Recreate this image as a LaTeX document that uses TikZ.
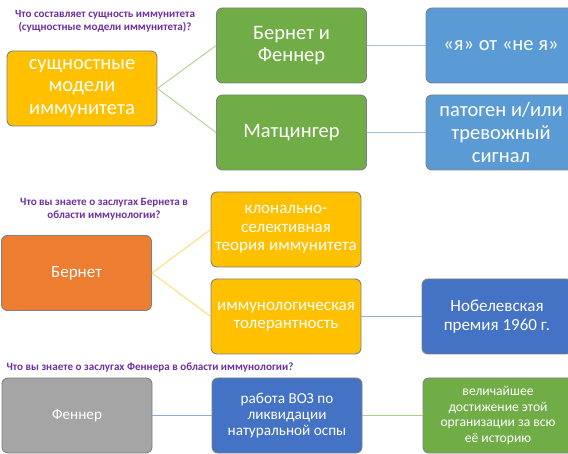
\documentclass[tikz,border=0pt]{standalone}
\usepackage{fontspec}
\setmainfont{Carlito}
\definecolor{cyellow}{HTML}{FFC000}
\definecolor{cgreen}{HTML}{70AD47}
\definecolor{clblue}{HTML}{5B9BD5}
\definecolor{corange}{HTML}{ED7D31}
\definecolor{cblue}{HTML}{4472C4}
\definecolor{cgray}{HTML}{A5A5A5}
\definecolor{qpurple}{HTML}{7030A0}
\definecolor{lgreen}{HTML}{A9D18E}
\definecolor{llblue}{HTML}{9DC3E6}
\definecolor{lyellow}{HTML}{FFD966}
\definecolor{lblue}{HTML}{8FAADC}
\definecolor{boxline}{HTML}{808080}
\begin{document}
\begin{tikzpicture}[x=1pt,y=-1pt,
  box/.style={draw=boxline, rounded corners=6pt, line width=0.9pt,
    minimum width=150pt, minimum height=75pt, text=white, align=center, inner sep=1pt},
  big/.style={font=\fontsize{20.5}{22.8}\selectfont},
  mid/.style={font=\fontsize{17}{18.5}\selectfont},
  sml/.style={font=\fontsize{15.2}{16}\selectfont},
  q/.style={text=qpurple, font=\bfseries\fontsize{11.1}{13}\selectfont, align=center},
  conn/.style={line width=0.9pt}]
\useasboundingbox (0,0) rectangle (568,454);
% section 1
\node[q] (q1) at (105,21.5) {Что составляет сущность иммунитета\\(сущностные модели иммунитета)?};
\node[box, big, fill=cyellow] (s1) at (82,88.5) {сущностные\\модели\\иммунитета};
\node[box, big, fill=cgreen] (bf) at (291.5,45.5) {Бернет и\\Феннер};
\node[box, big, fill=cgreen] (mt) at (291.5,132.5) {Матцингер};
\node[box, big, fill=clblue] (ya) at (501,45.5) {«я» от «не я»};
\node[box, big, fill=clblue] (pt) at (501,132.5) {патоген и/или\\тревожный\\сигнал};
\draw[conn, lgreen] (s1.east) -- (bf.west);
\draw[conn, lgreen] (s1.east) -- (mt.west);
\draw[conn, llblue] (bf.east) -- (ya.west);
\draw[conn, llblue] (mt.east) -- (pt.west);
% section 2
\node[q] (q2) at (104,209.5) {Что вы знаете о заслугах Бернета в\\области иммунологии?};
\node[box, mid, fill=corange] (br) at (76.5,273) {Бернет};
\node[box, mid, fill=cyellow] (kl) at (286,229.5) {клонально-\\селективная\\теория иммунитета};
\node[box, mid, fill=cyellow] (it) at (286,316.5) {иммунологическая\\толерантность};
\node[box, mid, fill=cblue] (nb) at (497,316.5) {Нобелевская\\премия 1960 г.};
\draw[conn, lyellow] (br.east) -- (kl.west);
\draw[conn, lyellow] (br.east) -- (it.west);
\draw[conn, lblue] (it.east) -- (nb.west);
% section 3
\node[q] (q3) at (150,368) {Что вы знаете о заслугах Феннера в области иммунологии?};
\node[box, sml, fill=cgray] (fn) at (77,415.5) {Феннер};
\node[box, sml, fill=cblue] (voz) at (287,415.5) {работа ВОЗ по\\ликвидации\\натуральной оспы};
\node[box, font=\fontsize{13.6}{15.6}\selectfont, fill=cgreen] (vd) at (498,415.5) {величайшее\\достижение этой\\организации за всю\\её историю};
\draw[conn, lblue] (fn.east) -- (voz.west);
\draw[conn, lgreen] (voz.east) -- (vd.west);
\end{tikzpicture}
\end{document}
